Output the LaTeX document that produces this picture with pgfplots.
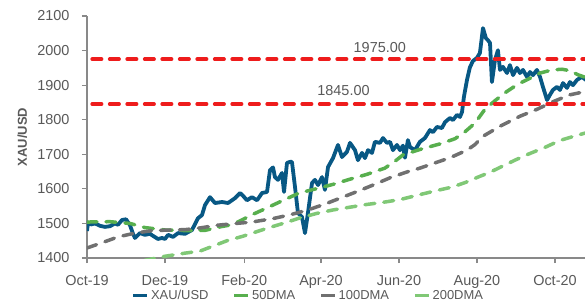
\documentclass[border=0pt]{standalone}
\usepackage{pgfplots}
\pgfplotsset{compat=1.18}
\usepackage{pgfplotstable}
\usepackage{fontspec}
\setmainfont{Liberation Sans}
\definecolor{blueline}{RGB}{8,88,132}
\definecolor{ma50}{RGB}{88,175,78}
\definecolor{ma100}{RGB}{112,112,112}
\definecolor{ma200}{RGB}{128,200,118}
\definecolor{redline}{RGB}{238,28,28}
\definecolor{textgray}{RGB}{89,89,89}
\definecolor{axisgray}{RGB}{137,137,137}

% x = days since 1 Oct 2019
\pgfplotstableread{
d v
0 1478
0.8 1503
3.1 1497
6.3 1500
10.2 1493
14.1 1490
18.0 1492
21.9 1500
24.2 1496
27.4 1510
30.5 1512
33.6 1495
36.0 1470
37.5 1458
41.4 1472
45.3 1467
49.3 1470
50.8 1466
55.5 1455
58.7 1458
61.0 1455
63.4 1467
67.3 1461
71.2 1472
76.7 1470
82.1 1481
86.8 1515
89.9 1524
92.3 1553
96.2 1576
100.1 1559
105.6 1562
110.3 1559
115.7 1573
119.7 1588
122.0 1580
125.1 1567
129.0 1576
133.0 1567
136.9 1588
140.8 1591
143.1 1654
145.5 1662
147.0 1634
149.4 1626
152.5 1646
154.1 1591
156.4 1675
158.8 1678
160.3 1678
162.7 1605
165.0 1530
168.1 1519
170.5 1472
172.8 1530
176.0 1617
178.3 1626
180.7 1611
183.8 1634
186.1 1597
188.5 1663
192.4 1689
196.3 1727
199.4 1692
203.3 1707
205.7 1733
209.6 1712
211.9 1683
215.1 1704
217.4 1689
219.8 1712
222.9 1704
225.2 1736
229.1 1733
231.5 1747
234.6 1733
237.0 1736
239.3 1712
242.4 1727
244.8 1712
247.1 1725
248.7 1690
251.0 1741
252.6 1721
256.5 1712
260.4 1736
264.3 1747
268.2 1770
270.6 1764
273.7 1779
277.6 1776
280.0 1793
283.9 1805
286.2 1799
289.4 1814
291.7 1808
293.3 1822
294.8 1866
297.2 1915
299.5 1952
301.9 1970
305.0 1979
307.3 1993
309.7 2065
312.0 2036
313.6 2030
315.2 2022
316.7 1909
319.1 1973
321.4 2001
323.0 1944
325.3 1953
328.5 1935
330.8 1958
333.2 1929
336.3 1950
338.6 1935
341.0 1944
344.1 1924
346.5 1938
348.8 1929
351.9 1944
354.3 1924
356.6 1895
359.8 1857
362.1 1872
364.4 1886
367.6 1895
369.9 1886
372.3 1906
375.4 1892
377.7 1909
380.1 1900
383.2 1915
387.1 1924
390.2 1915
}\xau

\pgfplotstableread{
d v
0 1504
18 1505
33.6 1500
45.3 1488
61 1481
80.5 1479
92.3 1480
104 1490
114.2 1497
129 1525
140.8 1545
154.1 1568
166 1588
182.2 1603
192.4 1613
205.7 1628
219 1642
233 1660
240.9 1680
247.1 1698
260.4 1714
276 1730
287.8 1745
295.6 1765
303.4 1790
311.2 1830
319.1 1855
326.9 1878
337.1 1903
346.5 1920
354.3 1935
363.7 1944
371.5 1946
377.7 1942
384 1930
390.2 1922
}\dmafifty

\pgfplotstableread{
d v
0 1429
10.2 1442
24.2 1461
37.5 1472
50.8 1479
64.9 1481
76.6 1482
88.4 1487
102.4 1495
119.7 1501
129 1504
145.5 1514
158.8 1525
172 1538
186.1 1556
197.9 1573
211.1 1592
223.7 1611
237 1632
250.3 1649
260.4 1660
270.6 1673
283.9 1690
297.2 1712
303.4 1728
309.7 1752
323 1781
338.6 1810
351.9 1830
364.4 1852
377.7 1872
390.2 1882
}\dmahundred

\pgfplotstableread{
d v
45 1393
61 1405
76.6 1414
88.4 1420
109.5 1450
122 1463
140.8 1486
153.3 1500
166.6 1516
179.7 1529
192.4 1539
205.7 1547
219 1555
231.5 1561
244.8 1569
258.9 1582
272.2 1594
285.4 1605
295.6 1618
305.8 1634
315.2 1648
324.6 1665
334.7 1683
344.9 1700
358.2 1720
369.9 1740
381.6 1753
390.2 1762
}\dmatwohundred

\begin{document}
\begin{tikzpicture}
\begin{axis}[
  scale only axis,
  width=498bp, height=242bp,
  xmin=0, xmax=389.5, ymin=1400, ymax=2100,
  axis x line*=bottom, axis y line*=left,
  axis line style={draw=axisgray, line width=1.5bp},
  xtick={0,61,123,183,244,305,366},
  xticklabels={Oct-19,Dec-19,Feb-20,Apr-20,Jun-20,Aug-20,Oct-20},
  ytick={1400,1500,1600,1700,1800,1900,2000,2100},
  tick align=outside, major tick length=5bp,
  every tick/.style={draw=axisgray, line width=1.2bp},
  tick label style={font=\fontsize{14.5}{17}\selectfont, text=textgray},
  /pgf/number format/assume math mode=true,
  /pgf/number format/1000 sep={},
  yticklabel style={xshift=-9bp},
  xticklabel style={yshift=-9bp},
  ylabel={XAU/USD},
  ylabel style={at={(axis description cs:-0.13,0.5)}, anchor=center,
    font=\bfseries\fontsize{13}{15}\selectfont, text=textgray},
  legend columns=-1,
  legend style={at={(axis description cs:0.444,-0.155)}, anchor=center,
    draw=none, fill=none, font=\fontsize{13}{15}\selectfont, text=textgray,
    inner sep=0pt,
    /tikz/every even column/.append style={column sep=22bp}},
  legend image code/.code={\draw[#1,solid,line cap=butt] (0bp,0bp) -- (14bp,0bp);},
]
\addplot[blueline, line width=3.8bp, line join=round] table[x=d,y=v] {\xau};
\addlegendentry{XAU/USD}
\addplot[ma50, line width=3.5bp, line cap=round, dash pattern=on 10bp off 9bp] table[x=d,y=v] {\dmafifty};
\addlegendentry{50DMA}
\addplot[ma100, line width=3.5bp, line cap=round, dash pattern=on 10bp off 9bp] table[x=d,y=v] {\dmahundred};
\addlegendentry{100DMA}
\addplot[ma200, line width=3.5bp, line cap=round, dash pattern=on 10bp off 9bp] table[x=d,y=v] {\dmatwohundred};
\addlegendentry{200DMA}
\addplot[redline, line width=3.5bp, line cap=round, dash pattern=on 9.5bp off 8bp, forget plot] coordinates {(4,1975) (392,1975)};
\addplot[redline, line width=3.5bp, line cap=round, dash pattern=on 9.5bp off 8bp, forget plot] coordinates {(4,1845) (392,1845)};
\node[font=\fontsize{14.5}{17}\selectfont, text=textgray] at (axis cs:229,2010) {1975.00};
\node[font=\fontsize{14.5}{17}\selectfont, text=textgray] at (axis cs:200.6,1883) {1845.00};
\end{axis}
\pgfresetboundingbox
\path (-87bp,-46bp) rectangle (498bp,258bp);
\end{tikzpicture}
\end{document}
